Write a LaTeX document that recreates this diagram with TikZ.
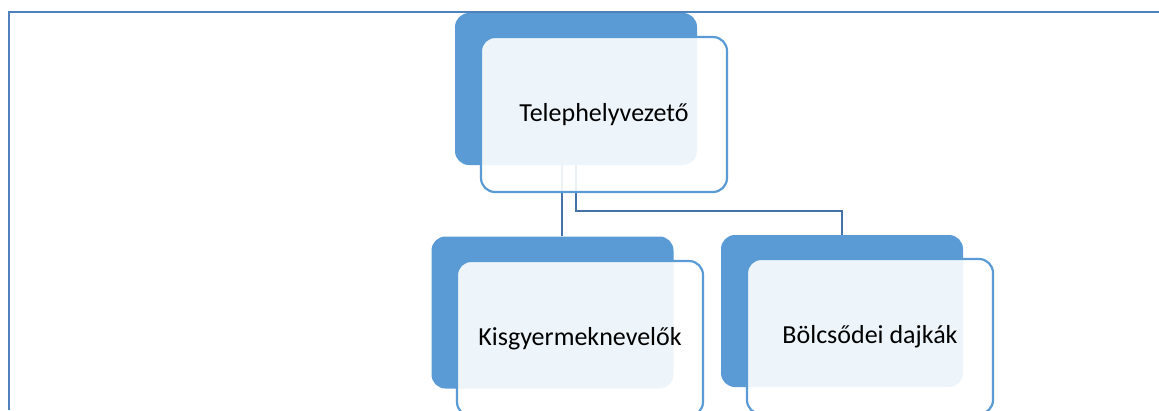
\documentclass[tikz,border=0pt]{standalone}
\usepackage{fontspec}
\setmainfont{Carlito}
\definecolor{boxblue}{RGB}{91,155,213}
\definecolor{lineblue}{RGB}{68,114,168}
\definecolor{frameblue}{RGB}{79,129,189}

\begin{document}
\begin{tikzpicture}[x=1pt, y=-1pt]
\tikzstyle{back} = [fill=boxblue, rounded corners=14pt, minimum width=242pt, minimum height=152pt, inner sep=0pt]
\tikzstyle{front} = [draw=boxblue, line width=2.2pt, fill=white, fill opacity=0.9, text opacity=1, rounded corners=14pt, minimum width=246pt, minimum height=155pt, inner sep=0pt, font=\fontsize{26}{31}\selectfont]
\tikzstyle{link} = [draw=lineblue, line width=2pt]
\useasboundingbox (0,0) rectangle (1159,410);
\clip (0,0) rectangle (1159,410);
% frame
\draw[frameblue, line width=2pt] (8.5,410) -- (8.5,11.5) -- (1159,11.5);
% back boxes
\node[back] (lead_b) at (576, 89) {};
\node[back] (kid_b) at (552.5, 312.5) {};
\node[back] (nurse_b) at (842, 311) {};
% links
\path[link] ([xshift=-14pt]lead_b.south) -- ([xshift=-14pt]lead_b.south |- kid_b.north);
\path[link] (lead_b.south) -- (576,211) -| (nurse_b.north);
% front boxes
\node[front] (lead) at (604, 114.5) {Telephelyvezető};
\node[front] (kid) at (580, 338.5) {Kisgyermeknevelők};
\node[front] (nurse) at (870, 336.5) {Bölcsődei dajkák};
\end{tikzpicture}
\end{document}
